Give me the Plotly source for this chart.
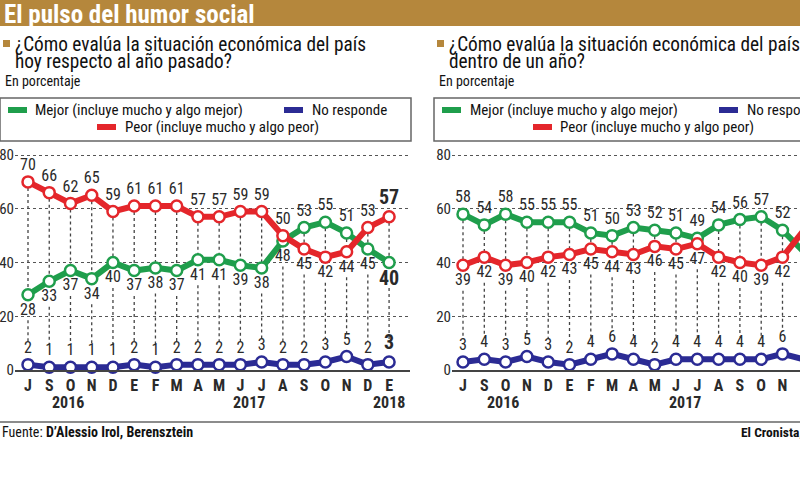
import plotly.graph_objects as go

# ---------------- data ----------------
months = ["J", "S", "O", "N", "D", "E", "F", "M", "A", "M", "J", "J", "A", "S", "O", "N", "D", "E"]
years = ["2016", "2017", "2018"]
year_pos = [1.9, 10.4, 17]

# Left: hoy respecto al año pasado
left_mejor = [28, 33, 37, 34, 40, 37, 38, 37, 41, 41, 39, 38, 48, 53, 55, 51, 45, 40]
left_peor = [70, 66, 62, 65, 59, 61, 61, 61, 57, 57, 59, 59, 50, 45, 42, 44, 53, 57]
left_nr = [2, 1, 1, 1, 1, 2, 1, 2, 2, 2, 2, 3, 2, 2, 3, 5, 2, 3]

# Right: dentro de un año (visible part)
right_mejor = [58, 54, 58, 55, 55, 55, 51, 50, 53, 52, 51, 49, 54, 56, 57, 52, 44]
right_peor = [39, 42, 39, 40, 42, 43, 45, 44, 43, 46, 45, 47, 42, 40, 39, 42, 52]
right_nr = [3, 4, 3, 5, 3, 2, 4, 6, 4, 2, 4, 4, 4, 4, 4, 6, 4]

title = "El pulso del humor social"
q_left = ["¿Cómo evalúa la situación económica del país", "hoy respecto al año pasado?"]
q_right = ["¿Cómo evalúa la situación económica del país", "dentro de un año?"]
unit = "En porcentaje"
leg_mejor = "Mejor (incluye mucho y algo mejor)"
leg_peor = "Peor (incluye mucho y algo peor)"
leg_nr = "No responde"

# ---------------- style ----------------
W, H = 800, 483
FONT = "Liberation Sans Narrow, Roboto Condensed, Roboto, sans-serif"
GREEN = "#1f9e4c"
RED = "#e4262b"
BLUE = "#2b2b94"
BROWN = "#b5873c"
TXT = "#2a2a2a"


def px(x):
    return x / W


def py(y):
    return 1 - y / H


fig = go.Figure()


def vertical_segments(m, p, n):
    xs, ys = [], []
    for i in range(len(m)):
        hi, lo = max(m[i], p[i]), min(m[i], p[i])
        xs += [i, i, None, i, i, None]
        ys += [hi, lo, None, lo - 9.5, n[i] + 8.5, None]
    return xs, ys


def add_panel(mejor, peor, nr, xa, ya, green_pos, red_pos, bold_last=False):
    xs, ys = vertical_segments(mejor, peor, nr)
    fig.add_trace(go.Scatter(x=xs, y=ys, mode="lines", xaxis=xa, yaxis=ya,
                             line=dict(color="#444", width=1.3, dash="dot"),
                             hoverinfo="skip", showlegend=False))
    idx = list(range(len(mejor)))

    def series(vals, color, pos):
        texts = [str(v) for v in vals]
        sizes = [16] * len(vals)
        if bold_last:
            texts[-1] = "<b>%d</b>" % vals[-1]
            sizes[-1] = 20
        fig.add_trace(go.Scatter(
            x=idx, y=vals, mode="lines+markers+text", xaxis=xa, yaxis=ya,
            line=dict(color=color, width=6),
            marker=dict(size=11, color="white", line=dict(color=color, width=2.5)),
            text=texts, textposition=pos,
            textfont=dict(family=FONT, size=sizes, color=TXT),
            cliponaxis=False, hoverinfo="skip", showlegend=False))

    series(nr, BLUE, "top center")
    series(mejor, GREEN, green_pos)
    series(peor, RED, red_pos)


# left text positions
lg = ["bottom center"] * 13 + ["top center"] * 3 + ["bottom center"] * 2
lr = ["top center"] * 13 + ["bottom center"] * 3 + ["top center"] * 2
add_panel(left_mejor, left_peor, left_nr, "x", "y", lg, lr, bold_last=True)

rg = ["top center"] * 16 + ["bottom center"]
rr = ["bottom center"] * 16 + ["top center"]
add_panel(right_mejor, right_peor, right_nr, "x2", "y2", rg, rr)

# ---------------- axes ----------------
STEP_L = 21.24
STEP_R = 21.3
ydom = [py(370), py(145)]
yrange = [0, 80 + 10 / 2.6875]

yax = dict(domain=ydom, range=yrange, tickvals=[0, 20, 40, 60, 80],
           showgrid=True, gridcolor="#555", griddash="dot", gridwidth=1.2,
           zeroline=False, showline=False, ticks="",
           tickfont=dict(family=FONT, size=15, color=TXT),
           fixedrange=True, automargin=False)
xax = dict(tickvals=list(range(len(months))), ticktext=["<b>%s</b>" % m for m in months],
           showgrid=False, zeroline=False, showline=True, linecolor="#444", linewidth=2,
           ticks="",
           tickfont=dict(family=FONT, size=16, color=TXT), fixedrange=True, automargin=False)

fig.update_layout(
    xaxis=dict(xax, domain=[px(15), px(410)], range=[(15 - 28) / STEP_L, (410 - 28) / STEP_L], anchor="y"),
    yaxis=dict(yax, anchor="x"),
    xaxis2=dict(xax, domain=[px(452), 1], range=[(452 - 463) / STEP_R, (800 - 463) / STEP_R], anchor="y2"),
    yaxis2=dict(yax, anchor="x2"),
)

# ---------------- decorations ----------------
shapes = []
ann = []

shapes.append(dict(type="rect", xref="paper", yref="paper", x0=0, x1=1, y0=py(26), y1=1,
                   fillcolor=BROWN, line=dict(width=0), layer="below"))
ann.append(dict(text="<b>%s</b>" % title, x=px(2), y=py(14), xref="paper", yref="paper",
                xanchor="left", yanchor="middle", showarrow=False,
                font=dict(family=FONT, size=25, color="white")))


def panel_text(x0, q, box_x0, box_x1, sw, tx):
    # bullet square
    shapes.append(dict(type="rect", xref="paper", yref="paper", x0=px(x0), x1=px(x0 + 7),
                       y0=py(47), y1=py(40), fillcolor=BROWN, line=dict(width=0)))
    ann.append(dict(text=q[0], x=px(x0 + 10), y=py(44), xref="paper", yref="paper",
                    xanchor="left", yanchor="middle", showarrow=False,
                    font=dict(family=FONT, size=19.3, color="#111")))
    ann.append(dict(text=q[1], x=px(x0 + 10), y=py(61), xref="paper", yref="paper",
                    xanchor="left", yanchor="middle", showarrow=False,
                    font=dict(family=FONT, size=19.3, color="#111")))
    ann.append(dict(text=unit, x=px(x0), y=py(81), xref="paper", yref="paper",
                    xanchor="left", yanchor="middle", showarrow=False,
                    font=dict(family=FONT, size=14, color="#111")))
    shapes.append(dict(type="rect", xref="paper", yref="paper", x0=px(box_x0), x1=px(box_x1),
                       y0=py(141), y1=py(98), line=dict(color="#666", width=1.5)))
    for (a, b, yy, col) in sw:
        shapes.append(dict(type="line", xref="paper", yref="paper", x0=px(a), x1=px(b),
                           y0=py(yy), y1=py(yy), line=dict(color=col, width=6)))
    for (x, yy, t) in tx:
        ann.append(dict(text=t, x=px(x), y=py(yy), xref="paper", yref="paper",
                        xanchor="left", yanchor="middle", showarrow=False,
                        font=dict(family=FONT, size=15, color="#111")))


panel_text(3, q_left, 0, 411,
           [(8, 27, 110, GREEN), (284, 303, 110, BLUE), (97, 116, 127, RED)],
           [(33, 110, leg_mejor), (310, 110, leg_nr), (123, 127, leg_peor)])
panel_text(437, q_right, 434, 820,
           [(442, 461, 110, GREEN), (719, 738, 110, BLUE), (533, 552, 127, RED)],
           [(468, 110, leg_mejor), (745, 110, leg_nr), (558, 127, leg_peor)])

for xa, n in (("x", 3), ("x2", 2)):
    for yname, yp in zip(years[:n], year_pos[:n]):
        ann.append(dict(text="<b>%s</b>" % yname, x=yp, y=py(402), xref=xa, yref="paper",
                        xanchor="center", yanchor="middle", showarrow=False,
                        font=dict(family=FONT, size=16, color=TXT)))

shapes.append(dict(type="line", xref="paper", yref="paper", x0=0, x1=1, y0=py(422), y1=py(422),
                   line=dict(color="#666", width=1.5)))
ann.append(dict(text="Fuente: <b>D’Alessio Irol, Berensztein</b>", x=0, y=py(432),
                xref="paper", yref="paper", xanchor="left", yanchor="middle", showarrow=False,
                font=dict(family=FONT, size=14, color="#111")))
ann.append(dict(text="<b>El Cronista,</b>", x=px(739), y=py(432),
                xref="paper", yref="paper", xanchor="left", yanchor="middle", showarrow=False,
                font=dict(family=FONT, size=13.5, color="#111")))

fig.update_layout(width=W, height=H, margin=dict(l=0, r=0, t=0, b=0, autoexpand=False),
                  paper_bgcolor="white", plot_bgcolor="white",
                  shapes=shapes, annotations=ann, showlegend=False,
                  font=dict(family=FONT))

fig.write_html("out.html", config={"displayModeBar": False})
